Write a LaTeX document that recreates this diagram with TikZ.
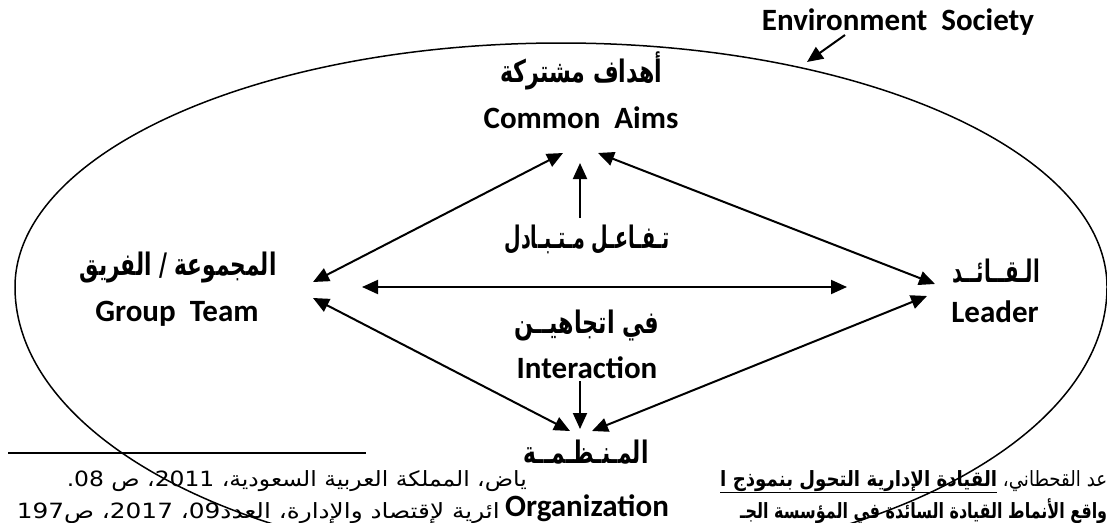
\documentclass[tikz,border=0pt]{standalone}
\usepackage{fontspec}
\usepackage{graphicx}
\setmainfont{Carlito}
\newfontfamily\arabicfont[Script=Arabic]{DejaVu Sans}
\TeXXeTstate=1
\usetikzlibrary{arrows.meta}
\newcommand{\fitw}[2]{\resizebox{#1}{\height}{#2}}
\begin{document}
\begin{tikzpicture}[x=1pt,y=-1pt,
  lab/.style={font=\fontsize{31}{36}\selectfont\bfseries, inner sep=0pt},
  arl/.style={font=\arabicfont\bfseries\fontsize{31}{36}\selectfont, inner sep=0pt},
  fn/.style={font=\arabicfont\fontsize{21}{25}\selectfont, inner sep=0pt},
  tip/.tip={Triangle[length=16pt,width=14pt]},
  con/.style={line width=2pt, tip-tip},
  one/.style={line width=2pt, -tip},
  oval/.style={line width=1.5pt}]
\useasboundingbox (0,0) rectangle (1107,522);
\fill[white] (0,0) rectangle (1107,522);
\clip (0,0) rectangle (1107,522);

% environment oval
\draw[oval] (1107,287) arc[start angle=0, end angle=-180, x radius=546, y radius=244];
\draw[oval] (1107,287) arc[start angle=0, end angle=180, x radius=546, y radius=279];

% footnote rule and fragments
\coordinate (r1) at (8,453);
\coordinate (r2) at (366,453);
\draw[line width=1.3pt] (r1) -- (r2);
\node[fn, anchor=base east] (f1l) at (527,486)
  {\fitw{460pt}{\beginR ياض، المملكة العربية السعودية، 2011، ص 08.\endR}};
\node[fn, anchor=base east] (f2l) at (500,518)
  {\fitw{483pt}{\beginR ائرية لإقتصاد والإدارة، العدد09، 2017، ص197\endR}};
\node[fn, anchor=base west] (f1r) at (720,486)
  {\fitw{387pt}{\beginR عد القحطاني، \underline{\hbox{\bfseries\beginR القيادة الإدارية التحول بنموذج ا\endR}}\endR}};
\node[fn, anchor=base west] (f2r) at (740,518)
  {\fitw{367pt}{\bfseries\beginR واقع الأنماط القيادة السائدة في المؤسسة الجـ\endR}};

% labels
\node[lab, anchor=base] (env) at (898,30) {Environment\ \ Society};
\node[arl] (aimsar) at (581,71) {\fitw{162pt}{\beginR أهداف  مشتركة\endR}};
\node[lab, anchor=base] (aims) at (581,128) {Common\ \ Aims};
\node[arl] (grpar) at (178,268) {\fitw{197pt}{\beginR المجموعة / الفريق\endR}};
\node[lab, anchor=base] (grp) at (177,321) {Group\ \ Team};
\node[arl] (ldrar) at (996,271) {\fitw{88pt}{\beginR الـقــائــد\endR}};
\node[lab, anchor=base] (ldr) at (995,322) {Leader};
\node[arl] (tafa) at (587,240) {\fitw{165pt}{\beginR تـفـاعـل  مـتـبـادل\endR}};
\node[arl] (fi) at (587,326) {\fitw{145pt}{\beginR في  اتجاهيــن\endR}};
\node[lab, anchor=base] (inter) at (587,378) {Interaction};
\node[arl] (orgar) at (586,452) {\fitw{125pt}{\beginR المـنـظـمــة\endR}};
\node[lab, anchor=base] (org) at (587,516) {Organization};

% connector ends
\coordinate (gA) at (313,282);
\coordinate (aL) at (563,153);
\coordinate (aR) at (598,153);
\coordinate (lA) at (935,284);
\coordinate (gO) at (313,298);
\coordinate (oL) at (570,431);
\coordinate (lO) at (927,296);
\coordinate (oR) at (592,431);
\coordinate (hL) at (362,287);
\coordinate (hR) at (847,287);
\coordinate (vu1) at (580,218);
\coordinate (vu2) at (580,163);
\coordinate (vd1) at (580,381);
\coordinate (vd2) at (580,429);
\coordinate (e1) at (845,35);
\coordinate (e2) at (807,62);

\draw[con] (gA) -- (aL);
\draw[con] (aR) -- (lA);
\draw[con] (gO) -- (oL);
\draw[con] (lO) -- (oR);
\draw[con] (hL) -- (hR);
\draw[one] (vu1) -- (vu2);
\draw[one] (vd1) -- (vd2);
\draw[one] (e1) -- (e2);
\end{tikzpicture}
\end{document}
